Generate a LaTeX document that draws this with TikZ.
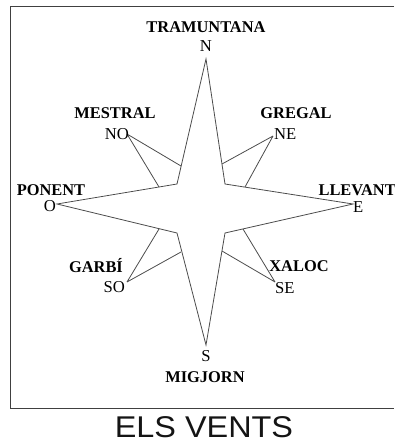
\documentclass[tikz,border=0pt]{standalone}
\usepackage{fontspec}
\setmainfont{Liberation Serif}
\newfontfamily\titlefont{Liberation Sans}
\usetikzlibrary{calc}

\tikzset{
  rose/.style={draw=black!70,line width=0.6pt,line join=miter,fill=white},
  ray/.style={draw=black!70,line width=0.6pt},
  windname/.style={font=\bfseries\fontsize{12.3}{14}\selectfont,inner sep=0pt},
  pointname/.style={font=\fontsize{12.5}{14}\selectfont,inner sep=0.6pt}
}

\begin{document}
\begin{tikzpicture}[x=0.75pt,y=-0.75pt]
  \useasboundingbox (0,0) rectangle (394,442);
  % frame (open on the right)
  \draw[black!75,line width=0.7pt] (394,6)--(10,6)--(10,408)--(394,408);

  % main points and inner corners
  \coordinate (N) at (206,59);
  \coordinate (S) at (206,345);
  \coordinate (E) at (353,204);
  \coordinate (O) at (57,204);
  \coordinate (ul) at (177,184);
  \coordinate (ur) at (225,184);
  \coordinate (ll) at (177,233);
  \coordinate (lr) at (225,233);

  % secondary points
  \coordinate (NO) at (127,134);
  \coordinate (NE) at (273,136);
  \coordinate (SO) at (127,282);
  \coordinate (SE) at (275,282);

  \draw[ray] (NO)--(181,166) (NO)--(159,187);
  \draw[ray] (NE)--(222,164) (NE)--(245,187);
  \draw[ray] (SO)--(159,229) (SO)--(181,252);
  \draw[ray] (SE)--(243,229) (SE)--(222,251);

  \draw[rose] (N)--(ur)--(E)--(lr)--(S)--(ll)--(O)--(ul)--cycle;

  % point letters
  \node[pointname,anchor=south] (lN) at (206,53) {N};
  \node[pointname,anchor=north] (lS) at (206,349) {S};
  \node[pointname,anchor=east] (lO) at (57,206) {O};
  \node[pointname,anchor=west] (lE) at (352,207) {E};
  \node[pointname,anchor=east] (lNO) at (130,134) {NO};
  \node[pointname,anchor=west] (lNE) at (273,134) {NE};
  \node[pointname,anchor=east] (lSO) at (126,287) {SO};
  \node[pointname,anchor=west] (lSE) at (274,288) {SE};

  % wind names
  \node[windname] (tram) at (206,27) {TRAMUNTANA};
  \node[windname] (mest) at (115,113) {MESTRAL};
  \node[windname] (greg) at (296,113) {GREGAL};
  \node[windname] (pon) at (51,190) {PONENT};
  \node[windname,anchor=east] (llev) at (396,190) {LLEVANT};
  \node[windname] (garb) at (96,266) {GARBÍ};
  \node[windname] (xal) at (299,266) {XALOC};
  \node[windname] (mig) at (205,377) {MIGJORN};

  \node[font=\titlefont\fontsize{22.5}{25}\selectfont,text=black!92,inner sep=0pt] (title) at (204,427) {\scalebox{1.08}[1]{ELS VENTS}};
\end{tikzpicture}
\end{document}
